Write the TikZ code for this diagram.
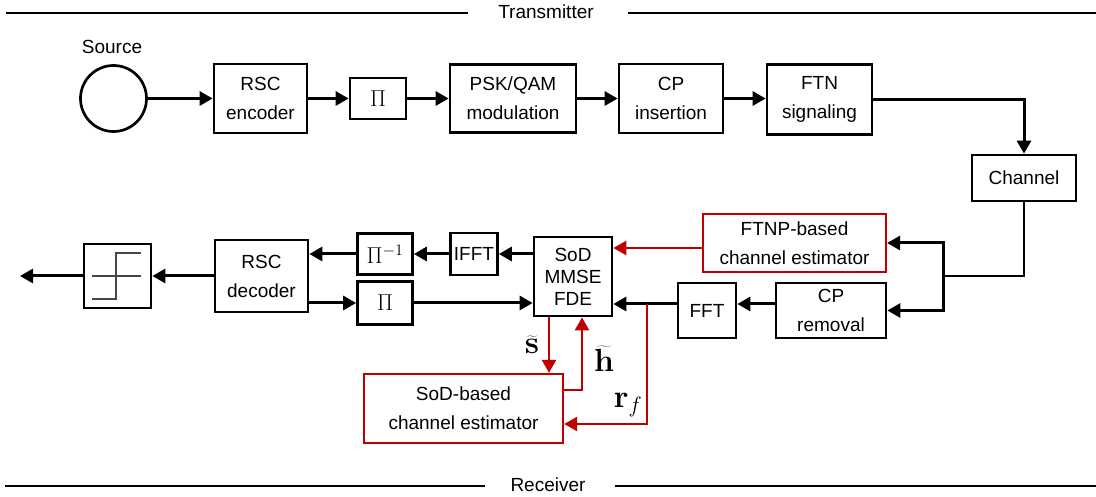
\RequirePackage{fix-cm}
\documentclass[tikz,border=0pt]{standalone}
\usepackage[no-math]{fontspec}
\newfontfamily\arial{Liberation Sans}
\usetikzlibrary{arrows.meta,calc}
\definecolor{estred}{RGB}{192,0,0}
\definecolor{stepgray}{RGB}{70,70,70}
\tikzset{
  lbl/.style={font=\arial\fontsize{19}{29}\selectfont, align=center},
  box/.style={lbl, draw=black, line width=2.7pt, inner sep=0pt, fill=white},
  redbox/.style={box, draw=estred, line width=2.3pt},
  sym/.style={font=\fontsize{23}{27}\selectfont},
  mlbl/.style={font=\fontsize{32}{36}\selectfont, inner sep=0pt},
  arr/.style={line width=3pt, -{Triangle[length=13pt,width=14pt]}},
  redarr/.style={draw=estred, line width=2.5pt, -{Triangle[length=13pt,width=14pt]}},
  thinline/.style={line width=1.5pt},
  steps/.style={draw=stepgray, line width=1.3pt}
}
\begin{document}
\begin{tikzpicture}[x=1pt, y=-1pt]
\useasboundingbox (0,0) rectangle (1096,497);

% section rules
\node[lbl] (tx) at (546,12) {Transmitter};
\draw[thinline] (6,13) -- (468,13);
\draw[thinline] (628,13) -- (1096,13);
\node[lbl] (rx) at (548,485) {Receiver};
\draw[thinline] (5,486) -- (485,486);
\draw[thinline] (615,486) -- (1096,486);

% transmitter chain
\node[box, circle, minimum size=66pt] (src) at (113.5,98.5) {};
\node[lbl] (srclbl) at (112,47) {Source};
\node[box, minimum width=93pt, minimum height=69pt] (enc) at (260.5,98.5) {RSC\\encoder};
\node[box, sym, minimum width=56pt, minimum height=41pt] (pi1) at (378,98.5) {$\Pi$};
\node[box, minimum width=126pt, minimum height=68pt] (mod) at (513,98.5) {PSK/QAM\\modulation};
\node[box, minimum width=104pt, minimum height=69pt] (cpi) at (671,98.5) {CP\\insertion};
\node[box, minimum width=105pt, minimum height=70pt] (ftn) at (819.5,99.5) {FTN\\signaling};
\node[box, minimum width=104pt, minimum height=46pt] (chan) at (1024,178) {Channel};

\draw[arr] (src) -- (enc);
\draw[arr] (enc) -- (pi1);
\draw[arr] (pi1) -- (mod);
\draw[arr] (mod) -- (cpi);
\draw[arr] (cpi.east) -- (cpi.east -| ftn.west);
\draw[arr] (ftn.east) -| (chan.north);

% receiver blocks
\node[redbox, minimum width=183pt, minimum height=58pt] (ftnp) at (794.5,243) {FTNP-based\\channel estimator};
\node[box, minimum width=110pt, minimum height=55pt] (cpr) at (831,310.5) {CP\\removal};
\node[box, minimum width=58pt, minimum height=55pt] (fft) at (707,310.5) {FFT};
\node[box, font=\arial\fontsize{19}{22}\selectfont, minimum width=78pt, minimum height=79pt] (fde) at (573,276.5) {SoD\\MMSE\\FDE};
\node[box, minimum width=47pt, minimum height=42pt] (ifft) at (474,254) {IFFT};
\node[box, sym, minimum width=55pt, minimum height=41pt] (piinv) at (385,254) {$\Pi^{-1}$};
\node[box, minimum width=93pt, minimum height=72pt] (dec) at (261.5,276) {RSC\\decoder};
\node[box, sym, minimum width=55pt, minimum height=43pt] (pi2) at (385,303) {$\Pi$};
\node[box, minimum width=67pt, minimum height=64pt] (hd) at (117.5,276) {};
\node[redbox, minimum width=199pt, minimum height=69pt] (sod) at (463.5,408.5) {SoD-based\\channel estimator};
\coordinate (out) at (20,276);

% hard-decision symbol
\draw[steps] ($(hd)+(-25.5,0)$) -- ($(hd)+(23.5,0)$);
\draw[steps] ($(hd)+(-25.5,23)$) -- ($(hd)+(-1.5,23)$) -- ($(hd)+(-1.5,-23)$) -- ($(hd)+(23.5,-23)$);

% channel output split
\coordinate (split) at (943,276);
\draw[thinline] (chan.south) -- (chan.south |- split) -- (split);
\draw[arr] (split) |- (ftnp.east);
\draw[arr] (split) |- (cpr.east);

% receiver chain
\coordinate (fftrow) at (0,304);
\draw[arr] (cpr.west |- fftrow) -- (fft.east |- fftrow);
\draw[arr] (fft.west |- fftrow) -- (fde.east |- fftrow);
\draw[arr] (fde.west |- ifft) -- (ifft);
\draw[arr] (ifft) -- (piinv);
\draw[arr] (piinv) -- (piinv -| dec.east);
\draw[arr] (dec.east |- pi2) -- (pi2);
\draw[arr] (pi2) -- (pi2 -| fde.west);
\draw[arr] (dec) -- (hd);
\draw[arr] (hd) -- (out);

% channel estimation paths
\coordinate (ftnpout) at ([yshift=-5pt]ftnp.west);
\draw[redarr] (ftnpout) -- (ftnpout -| fde.east);
\coordinate (sx) at (549,0);
\coordinate (hx) at (582,390);
\coordinate (rxf) at (647,424);
\draw[redarr] (sx |- fde.south) -- (sx |- sod.north);
\draw[redarr] (sod.east |- hx) -| (hx |- fde.south);
\draw[redarr] (rxf |- fftrow) |- (sod.east |- rxf);

\node[mlbl] (slbl) at (532,345) {$\widetilde{\mathbf{s}}$};
\node[mlbl] (hlbl) at (604,359) {$\widetilde{\mathbf{h}}$};
\node[mlbl] (rlbl) at (628,405) {$\mathbf{r}_{f}$};
\end{tikzpicture}
\end{document}
